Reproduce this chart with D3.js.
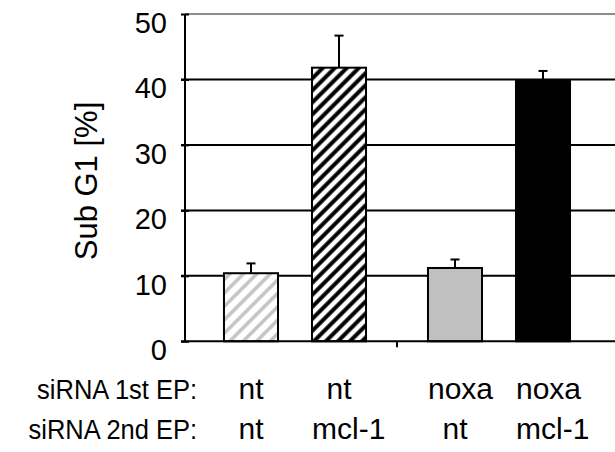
<!DOCTYPE html>
<html>
<head>
<meta charset="utf-8">
<script src="https://cdn.jsdelivr.net/npm/d3@7"></script>
<style>
  html, body { margin: 0; padding: 0; background: #fff; }
  svg { display: block; font-family: "Liberation Sans", Arial, sans-serif; }
</style>
</head>
<body>
<svg width="615" height="452"></svg>
<script>
const firstEP = ["nt", "nt", "noxa", "noxa"];
const secondEP = ["nt", "mcl-1", "nt", "mcl-1"];
const subG1 = [10.4, 41.8, 11.2, 39.8];
const errUp = [1.5, 4.9, 1.3, 1.5];
const yTicks = [0, 10, 20, 30, 40, 50];
const rowLabels = ["siRNA 1st EP:", "siRNA 2nd EP:"];

const fills = ["url(#hatchGrey)", "url(#hatchBlack)", "#c0c0c0", "#000"];

const width = 615;
const axisX = 185;

const svg = d3.select("svg");

const y = d3.scaleLinear().domain([0, 50]).range([341.3, 14]);

const outer = d3.scaleBand()
  .domain(Array.from(new Set(firstEP)))
  .range([193, 601]);

const inner = d3.scaleBand()
  .domain(Array.from(new Set(secondEP)))
  .range([0, outer.bandwidth()])
  .paddingInner(0.386)
  .paddingOuter(0.352);

const xPos = i => outer(firstEP[i]) + inner(secondEP[i]);
const bw = inner.bandwidth();

// hatch patterns
const defs = svg.append("defs");
const hatch = (id, colour, size, stroke) => {
  const p = defs.append("pattern")
    .attr("id", id)
    .attr("patternUnits", "userSpaceOnUse")
    .attr("width", size)
    .attr("height", size)
    .attr("patternTransform", "rotate(45)");
  p.append("rect").attr("width", size).attr("height", size).attr("fill", "#fff");
  p.append("line")
    .attr("x1", size / 2).attr("y1", 0)
    .attr("x2", size / 2).attr("y2", size)
    .attr("stroke", colour)
    .attr("stroke-width", stroke);
};
hatch("hatchBlack", "#000", 8.5, 4);
hatch("hatchGrey", "#c4c4c4", 9.5, 3.5);

// gridlines (they also make the ticks crossing the y axis)
svg.append("g")
  .selectAll("line")
  .data(yTicks.filter(d => d > 0 && d < 50))
  .enter().append("line")
  .attr("x1", axisX - 4).attr("x2", width)
  .attr("y1", d => y(d)).attr("y2", d => y(d))
  .attr("stroke", "#000")
  .attr("stroke-width", 2);

svg.append("line")
  .attr("x1", axisX).attr("x2", width)
  .attr("y1", y(50)).attr("y2", y(50))
  .attr("stroke", "#8c8c8c")
  .attr("stroke-width", 2);

// y axis
const yAxis = svg.append("g")
  .attr("transform", `translate(${axisX},0)`)
  .call(d3.axisLeft(y).tickValues(yTicks).tickSize(4).tickPadding(14));
yAxis.select(".domain").attr("stroke", "#000").attr("stroke-width", 2)
  .attr("d", `M0,${y(50)}V${y(0)}`);
yAxis.selectAll(".tick line").attr("stroke", "#000").attr("stroke-width", 2)
  .attr("x1", 4);
// labels sit a little below their tick, as in the source figure
yAxis.selectAll(".tick text")
  .attr("fill", "#000")
  .style("font-size", "29px")
  .attr("dy", "0.63em");

// bars
svg.append("g")
  .selectAll("rect")
  .data(subG1)
  .enter().append("rect")
  .attr("x", (d, i) => xPos(i))
  .attr("y", d => y(d))
  .attr("width", bw)
  .attr("height", d => y(0) - y(d))
  .attr("fill", (d, i) => fills[i])
  .attr("stroke", "#000")
  .attr("stroke-width", 2);

// error bars (upper only)
const err = svg.append("g")
  .attr("stroke", "#000")
  .attr("stroke-width", 2);

err.selectAll("line.stem")
  .data(subG1)
  .enter().append("line")
  .attr("class", "stem")
  .attr("x1", (d, i) => xPos(i) + bw / 2)
  .attr("x2", (d, i) => xPos(i) + bw / 2)
  .attr("y1", d => y(d))
  .attr("y2", (d, i) => y(d + errUp[i]));

err.selectAll("line.cap")
  .data(subG1)
  .enter().append("line")
  .attr("class", "cap")
  .attr("x1", (d, i) => xPos(i) + bw / 2 - 4.5)
  .attr("x2", (d, i) => xPos(i) + bw / 2 + 4.5)
  .attr("y1", (d, i) => y(d + errUp[i]))
  .attr("y2", (d, i) => y(d + errUp[i]));

// x axis line and group tick
svg.append("line")
  .attr("x1", axisX - 4).attr("x2", width)
  .attr("y1", y(0)).attr("y2", y(0))
  .attr("stroke", "#000")
  .attr("stroke-width", 2);

svg.append("line")
  .attr("x1", outer("noxa")).attr("x2", outer("noxa"))
  .attr("y1", y(0)).attr("y2", y(0) + 6)
  .attr("stroke", "#000")
  .attr("stroke-width", 2);

// y title
svg.append("text")
  .attr("transform", "translate(97,181) rotate(-90)")
  .attr("text-anchor", "middle")
  .style("font-size", "31px")
  .text("Sub G1 [%]");

// condition table under the axis
const rowY = [399, 439];
const rows = [firstEP, secondEP];

svg.append("g")
  .selectAll("text")
  .data(rowLabels)
  .enter().append("text")
  .attr("transform", (d, i) => `translate(197,${rowY[i]}) scale(0.91,1)`)
  .attr("text-anchor", "end")
  .style("font-size", "28px")
  .text(d => d);

rows.forEach((labels, r) => {
  svg.append("g")
    .selectAll("text")
    .data(labels)
    .enter().append("text")
    .attr("y", rowY[r])
    .style("font-size", "30px")
    .text(d => d)
    .attr("x", function(d, i) {
      const w = this.getComputedTextLength();
      return w > bw ? xPos(i) : xPos(i) + (bw - w) / 2;
    });
});
</script>
</body>
</html>
